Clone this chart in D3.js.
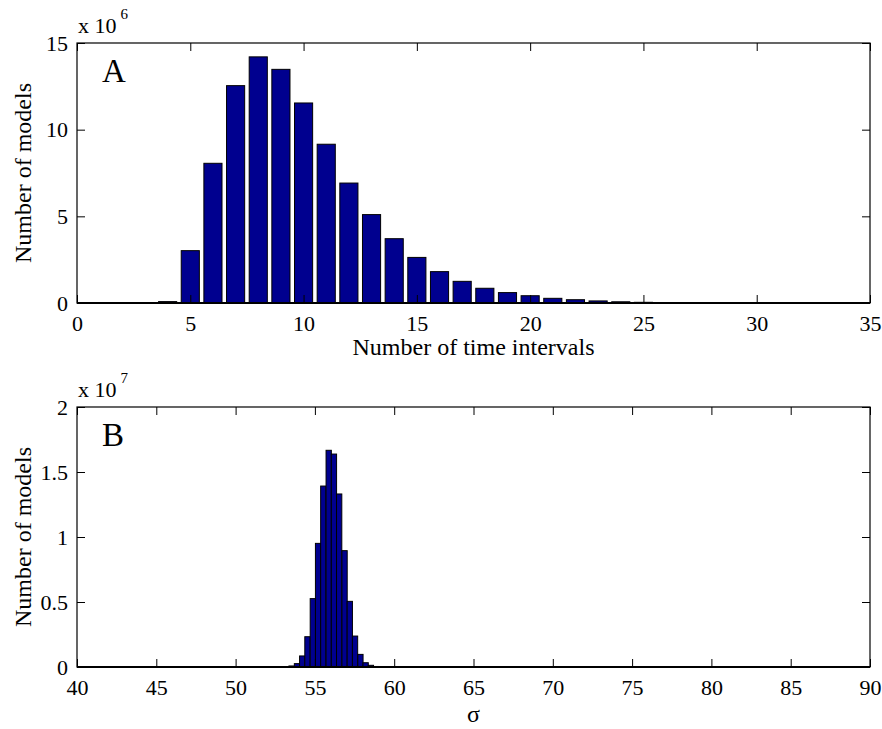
<!DOCTYPE html>
<html>
<head>
<meta charset="utf-8">
<script src="https://cdn.jsdelivr.net/npm/d3@7"></script>
<style>
    body { margin: 0; background: #fff; }
    svg text { font-family: "Liberation Serif", "Times New Roman", Times, "DejaVu Serif", serif !important; fill: #000; }
</style>
</head>
<body>
<svg id="Chart"></svg>
<script>
// panel A: number of time intervals (counts in units of 1e6)
let intervalBins = [1, 2, 3, 4, 5, 6, 7, 8, 9, 10, 11, 12, 13, 14, 15, 16, 17,
    18, 19, 20, 21, 22, 23, 24, 25, 26, 27, 28, 29, 30, 31, 32, 33, 34];
let intervalCounts = [0.005, 0.005, 0.01, 0.08, 3.02, 8.06, 12.54, 14.2, 13.48, 11.54,
    9.16, 6.92, 5.1, 3.71, 2.63, 1.81, 1.25, 0.85, 0.6, 0.42, 0.27, 0.19, 0.12, 0.07,
    0.04, 0.025, 0.015, 0.01, 0.006, 0.004, 0.003, 0.002, 0.001, 0.001];
let intervalTicksX = [0, 5, 10, 15, 20, 25, 30, 35];
let intervalTicksY = [0, 5, 10, 15];

// panel B: sigma histogram (counts in units of 1e7)
let sigmaBins = [53.53, 53.87, 54.2, 54.53, 54.87, 55.2, 55.53, 55.87, 56.2,
    56.53, 56.87, 57.2, 57.53, 57.87, 58.2, 58.53, 58.87];
let sigmaCounts = [0.008, 0.026, 0.085, 0.233, 0.526, 0.951, 1.392, 1.667, 1.638,
    1.331, 0.895, 0.505, 0.238, 0.097, 0.033, 0.013, 0.004];
let sigmaTicksX = [40, 45, 50, 55, 60, 65, 70, 75, 80, 85, 90];
let sigmaTicksY = [0, 0.5, 1, 1.5, 2];

let width = 882;
let height = 729;
let serif = "'Liberation Serif', 'Times New Roman', Times, serif";
let svg = d3.select("#Chart")
    .attr("width", width)
    .attr("height", height);

function drawPanel(cfg) {
    let { top, bottom, left, right } = cfg;
    let xScale = d3.scaleLinear()
        .domain(d3.extent(cfg.ticksX))
        .range([left, right]);
    let yScale = d3.scaleLinear()
        .domain(d3.extent(cfg.ticksY))
        .range([bottom, top]);

    let halfWidth = cfg.barWidth / 2;
    svg.append("g").selectAll("rect")
        .data(cfg.bins.map((b, i) => ({ x: b, y: cfg.counts[i] })))
        .enter().append("rect")
        .attr("x", d => xScale(d.x - halfWidth))
        .attr("width", d => xScale(d.x + halfWidth) - xScale(d.x - halfWidth))
        .attr("y", d => yScale(d.y))
        .attr("height", d => bottom - yScale(d.y))
        .attr("fill", "#00008f")
        .attr("stroke", "#000")
        .attr("stroke-width", 1);

    let fmt = d => String(d);
    let axes = [
        { axis: d3.axisBottom(xScale).tickValues(cfg.ticksX).tickFormat(fmt).tickPadding(12), pos: `translate(0,${bottom})` },
        { axis: d3.axisTop(xScale).tickValues(cfg.ticksX).tickFormat(""), pos: `translate(0,${top})` },
        { axis: d3.axisLeft(yScale).tickValues(cfg.ticksY).tickFormat(fmt).tickPadding(9), pos: `translate(${left},0)` },
        { axis: d3.axisRight(yScale).tickValues(cfg.ticksY).tickFormat(""), pos: `translate(${right},0)` }
    ];
    axes.forEach(a => {
        let g = svg.append("g")
            .attr("transform", a.pos)
            .call(a.axis.tickSizeInner(-8).tickSizeOuter(0))
            .attr("font-family", serif)
            .attr("font-size", 22);
        g.select(".domain").remove();
        g.selectAll("line").attr("stroke", "#000");
        g.selectAll("text").attr("fill", "#000");
    });

    svg.append("rect")
        .attr("x", left).attr("y", top)
        .attr("width", right - left).attr("height", bottom - top)
        .attr("fill", "none")
        .attr("stroke", "#000")
        .attr("stroke-width", 1.2);
    svg.append("line")
        .attr("x1", left).attr("x2", right)
        .attr("y1", bottom).attr("y2", bottom)
        .attr("stroke", "#000").attr("stroke-width", 2);

    // exponent note
    let note = svg.append("text")
        .attr("x", left + 1)
        .attr("y", top - 10)
        .attr("font-size", 22);
    note.append("tspan").text("x 10");
    note.append("tspan")
        .attr("dx", 4)
        .attr("dy", -14)
        .attr("font-size", 15)
        .text(cfg.exponent);

    svg.append("text")
        .attr("x", left + 25)
        .attr("y", top + 39)
        .attr("font-size", 33)
        .text(cfg.letter);

    svg.append("text")
        .attr("transform", `translate(31,${(top + bottom) / 2}) rotate(-90)`)
        .attr("text-anchor", "middle")
        .attr("font-size", 24)
        .text("Number of models");

    svg.append("text")
        .attr("x", (left + right) / 2)
        .attr("y", cfg.xLabelY)
        .attr("text-anchor", "middle")
        .attr("font-size", 24)
        .text(cfg.xLabel);
}

drawPanel({
    top: 43, bottom: 303, left: 77, right: 870,
    bins: intervalBins, counts: intervalCounts, barWidth: 0.8,
    ticksX: intervalTicksX, ticksY: intervalTicksY,
    exponent: "6", letter: "A",
    xLabel: "Number of time intervals", xLabelY: 355
});

drawPanel({
    top: 407, bottom: 667, left: 77, right: 870,
    bins: sigmaBins, counts: sigmaCounts, barWidth: 1 / 3,
    ticksX: sigmaTicksX, ticksY: sigmaTicksY,
    exponent: "7", letter: "B",
    xLabel: "σ", xLabelY: 722
});
</script>
</body>
</html>
